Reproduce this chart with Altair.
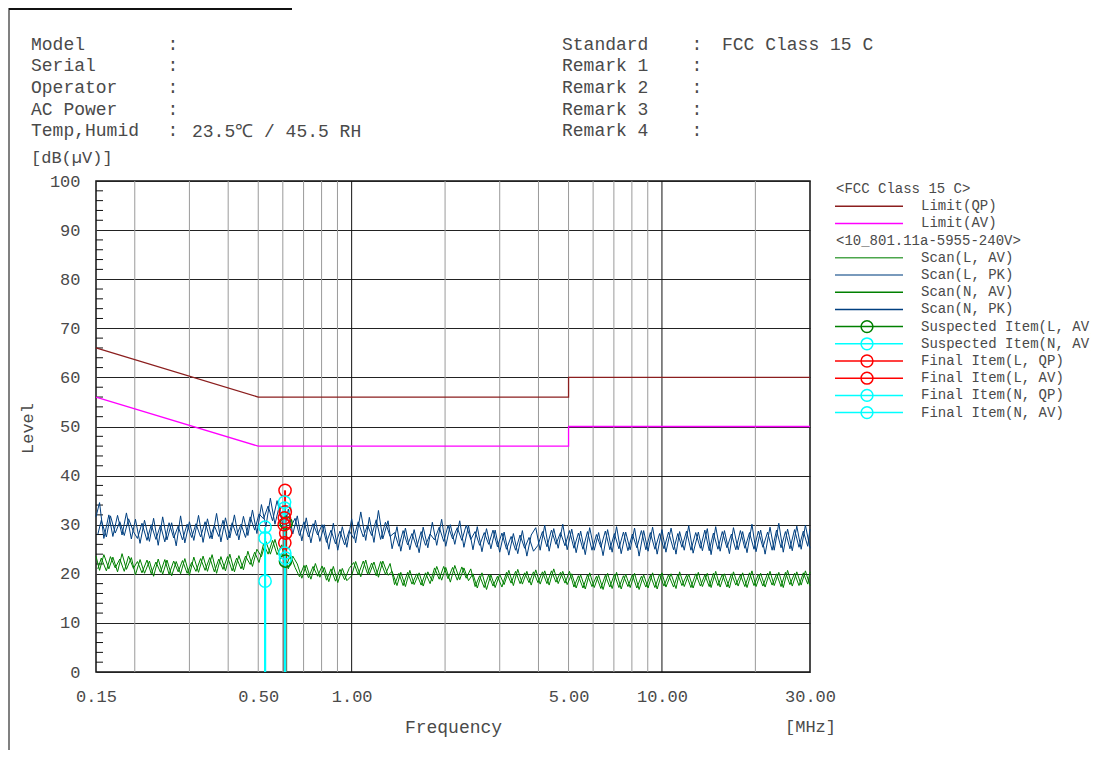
import altair as alt
import pandas as pd

# ---------------- data ----------------
# sweep frequencies of the N-line scans (MHz)
FREQ_N = [
    0.150, 0.154, 0.159, 0.165, 0.170, 0.176, 0.182, 0.188, 0.195, 0.201,
    0.208, 0.215, 0.223, 0.230, 0.238, 0.246, 0.254, 0.263, 0.272, 0.281,
    0.290, 0.300, 0.310, 0.321, 0.332, 0.343, 0.355, 0.367, 0.379, 0.392,
    0.405, 0.419, 0.433, 0.448, 0.463, 0.479, 0.495, 0.512, 0.529, 0.547,
    0.566, 0.585, 0.605, 0.625, 0.646, 0.668, 0.691, 0.714, 0.739, 0.764,
    0.790, 0.816, 0.844, 0.873, 0.902, 0.933, 0.965,
    1.00, 1.03, 1.07, 1.11, 1.14, 1.18, 1.22, 1.26, 1.31, 1.35,
    1.40, 1.44, 1.49, 1.54, 1.59, 1.65, 1.70, 1.76, 1.82, 1.88,
    1.95, 2.01, 2.08, 2.15, 2.23, 2.30, 2.38, 2.46, 2.54, 2.63,
    2.72, 2.81, 2.90, 3.00, 3.10, 3.21, 3.32, 3.43, 3.55, 3.67,
    3.79, 3.92, 4.05, 4.19, 4.33, 4.48, 4.63, 4.79, 4.95, 5.12,
    5.29, 5.47, 5.66, 5.85, 6.05, 6.25, 6.46, 6.68, 6.91, 7.14,
    7.39, 7.64, 7.90, 8.16, 8.44, 8.73, 9.02, 9.33, 9.65,
    10.0, 10.3, 10.7, 11.1, 11.4, 11.8, 12.2, 12.6, 13.1, 13.5,
    14.0, 14.4, 14.9, 15.4, 15.9, 16.5, 17.0, 17.6, 18.2, 18.8,
    19.5, 20.1, 20.8, 21.5, 22.3, 23.0, 23.8, 24.6, 25.4, 26.3,
    27.2, 28.1, 29.0, 30.0,
]

# sweep frequencies of the L-line scans (MHz)
FREQ_L = [
    0.152, 0.156, 0.162, 0.167, 0.173, 0.179, 0.185, 0.191, 0.198, 0.204,
    0.211, 0.219, 0.226, 0.234, 0.242, 0.250, 0.258, 0.267, 0.276, 0.285,
    0.295, 0.305, 0.315, 0.326, 0.337, 0.349, 0.361, 0.373, 0.385, 0.398,
    0.412, 0.426, 0.440, 0.455, 0.471, 0.487, 0.503, 0.520, 0.538, 0.556,
    0.575, 0.595, 0.615, 0.635, 0.657, 0.679, 0.702, 0.726, 0.751, 0.777,
    0.803, 0.830, 0.858, 0.887, 0.917, 0.949, 0.982,
    1.015, 1.05, 1.09, 1.125, 1.16, 1.20, 1.24, 1.285, 1.33, 1.375,
    1.42, 1.465, 1.515, 1.565, 1.62, 1.675, 1.73, 1.79, 1.85, 1.915,
    1.98, 2.045, 2.115, 2.19, 2.265, 2.34, 2.42, 2.50, 2.585, 2.675,
    2.765, 2.855, 2.95, 3.05, 3.155, 3.265, 3.375, 3.49, 3.61, 3.73,
    3.855, 3.985, 4.12, 4.26, 4.405, 4.555, 4.71, 4.87, 5.035, 5.205,
    5.38, 5.565, 5.755, 5.95, 6.15, 6.355, 6.57, 6.795, 7.025, 7.265,
    7.515, 7.77, 8.03, 8.30, 8.585, 8.875, 9.175, 9.49, 9.825,
    10.15, 10.5, 10.9, 11.25, 11.6, 12.0, 12.4, 12.85, 13.3, 13.75,
    14.2, 14.65, 15.15, 15.65, 16.2, 16.75, 17.3, 17.9, 18.5, 19.15,
    19.8, 20.45, 21.15, 21.9, 22.65, 23.4, 24.2, 25.0, 25.85, 26.75,
    27.65, 28.55, 29.5, 30.0,
]

SCAN_N_PK = [
    31.6, 34.5, 27.2, 32.0, 27.6, 31.9, 27.9, 32.4, 27.1,
    31.1, 26.2, 30.9, 26.6, 31.3, 25.8, 31.6, 26.9, 30.4, 25.7, 31.8, 26.3, 30.6,
    26.8, 31.9, 26.4, 31.2, 27.1, 32.3, 26.5, 31.4, 27.3, 32.0, 26.9, 31.7,
    27.8, 33.0, 28.2,
    34.1, 29.6, 35.4, 30.1, 33.9,
    28.4, 33.2, 28.1,
    31.8, 26.7, 31.4, 26.3, 30.9, 26.6,
    30.0, 25.0, 30.3, 24.8, 29.6, 25.4,
    31.2, 26.3, 32.6, 26.8, 31.5, 26.4, 32.9, 27.1, 30.8,
    25.1, 29.6, 24.6, 29.3, 24.9, 29.0, 24.3, 29.5, 25.3,
    30.5, 25.8, 31.1, 25.6, 30.0, 26.0, 30.8, 25.4, 29.8,
    24.9, 29.6, 24.5, 29.2, 25.1, 28.9, 24.4,
    28.5, 23.8, 28.2, 24.1, 28.8, 23.6, 27.9,
    29.4, 24.8, 29.9, 24.6, 29.2, 25.2, 30.1, 24.9,
    29.1, 24.3, 28.7, 23.9, 29.4, 24.8, 28.4, 23.7, 29.0, 24.4,
    29.6, 24.1, 28.5, 24.9, 29.3, 23.6, 28.8, 24.6, 29.5, 24.0,
    29.0, 24.4, 29.3, 24.0, 28.6, 24.8, 29.8, 24.2, 28.5, 24.7,
    29.2, 23.9, 29.6, 24.6, 28.8, 24.1, 29.4, 24.9, 28.6, 24.3,
    30.1, 24.5, 28.9, 24.0, 29.5, 24.8, 30.3, 24.4, 29.1, 24.7,
    29.7, 25.0, 29.9, 25.2,
]

SCAN_L_PK = [
    28.0, 30.9, 27.5, 31.8, 28.3, 30.6, 27.8, 31.2, 28.6,
    27.2, 30.3, 26.8, 30.0, 27.0, 29.9, 26.5, 30.4, 27.3, 29.7, 26.9, 30.1, 27.4,
    30.2, 27.5, 30.6, 27.2, 29.8, 27.6, 30.9, 26.9, 30.4, 27.8, 30.1, 27.4,
    31.6, 28.9, 32.2,
    31.2, 33.8, 30.8, 34.9, 31.0,
    32.0, 29.4, 31.3,
    27.8, 30.6, 27.5, 30.2, 27.9, 30.0,
    26.4, 28.9, 26.1, 28.7, 25.9, 28.8,
    27.2, 30.6, 27.5, 29.9, 27.8, 31.0, 27.0, 30.5, 27.6,
    28.4, 25.6, 28.8, 25.9, 28.2, 25.4, 28.6, 25.8, 28.1,
    26.9, 29.5, 26.6, 29.8, 27.1, 29.4, 26.8, 29.9, 27.0,
    28.6, 25.8, 28.4, 26.0, 28.9, 25.5, 28.3,
    25.0, 27.6, 24.8, 27.9, 25.2, 27.4, 24.6,
    25.8, 28.6, 25.5, 28.9, 26.0, 28.4, 25.7, 28.8,
    25.2, 28.3, 25.0, 28.6, 24.8, 28.0, 25.4, 28.7, 24.9, 28.2,
    25.1, 28.5, 24.7, 28.1, 25.3, 28.8, 24.9, 28.4, 25.0, 28.2,
    25.1, 28.5, 24.9, 28.2, 25.4, 28.7, 24.8, 28.4, 25.2, 28.9,
    24.7, 28.3, 25.0, 28.6, 25.3, 28.1, 24.9, 28.8, 25.2, 28.4,
    25.0, 28.7, 25.4, 28.5, 24.8, 28.9, 25.3, 28.6, 25.1, 29.0,
    25.4, 28.7, 25.6, 29.1,
]

SCAN_N_AV = [
    23.6, 20.7, 23.9, 21.0, 23.4, 20.4, 24.1, 20.9, 23.3,
    19.8, 22.9, 20.1, 22.6, 19.5, 23.0, 19.9, 22.8, 19.6, 22.5, 20.0, 23.1, 19.7,
    23.4, 20.3, 23.6, 20.5, 23.9, 20.1, 23.5, 20.6, 24.0, 20.4, 23.7, 20.8,
    24.6, 21.5, 25.0,
    23.5, 26.6, 24.0, 27.0, 23.8,
    23.9, 21.0, 23.6,
    22.0, 19.1, 21.8, 18.9, 22.1, 19.3,
    21.3, 18.4, 21.5, 18.2, 21.1, 18.6,
    19.6, 22.5, 19.4, 22.8, 19.9, 22.4, 19.3, 22.6, 19.7,
    20.5, 17.6, 20.3, 17.4, 20.7, 17.8, 20.2, 17.5, 20.4,
    18.5, 21.5, 18.7, 21.3, 18.3, 21.7, 18.8, 21.2, 18.6,
    20.0, 17.1, 20.2, 16.8, 19.8, 17.2, 19.9,
    17.8, 20.7, 17.6, 20.9, 17.9, 20.5, 17.7,
    20.8, 17.9, 20.6, 17.7, 21.0, 18.0, 20.5, 17.8,
    20.0, 17.1, 19.8, 16.9, 20.2, 17.2, 19.7, 16.8, 20.1, 17.0,
    20.3, 16.9, 19.9, 17.2, 20.1, 16.8, 19.8, 17.1, 20.2, 16.9,
    20.2, 17.3, 20.0, 17.0, 20.4, 17.4, 19.9, 17.1, 20.3, 17.4,
    20.1, 17.2, 20.5, 17.3, 20.0, 17.1, 20.4, 17.5, 20.2, 17.2,
    20.6, 17.4, 20.1, 17.3, 20.5, 17.6, 20.3, 17.2, 20.7, 17.5,
    20.4, 17.7, 20.6, 17.6,
]

SCAN_L_AV = [
    21.0, 23.2, 20.6, 23.5, 21.2, 23.0, 20.5, 23.6, 21.1,
    22.5, 20.2, 22.8, 20.0, 22.4, 20.3, 22.9, 19.9, 22.6, 20.4, 22.7, 20.1, 22.3,
    20.5, 23.1, 20.7, 23.3, 20.4, 23.0, 20.9, 23.5, 20.6, 23.2, 21.0, 23.6,
    21.9, 24.4, 22.3,
    26.1, 24.0, 26.8, 23.9, 25.9,
    21.6, 23.8, 21.3,
    19.4, 21.7, 19.2, 21.5, 19.5, 21.6,
    18.7, 21.0, 18.5, 20.9, 18.8, 21.1,
    22.3, 19.8, 22.6, 20.0, 22.2, 19.6, 22.5, 19.9, 22.1,
    17.8, 20.1, 17.6, 20.3, 17.9, 20.0, 17.7, 20.2, 18.0,
    21.2, 18.9, 21.5, 19.0, 21.3, 18.7, 21.4, 19.1, 21.0,
    17.4, 19.6, 17.2, 19.8, 17.5, 19.5, 17.3,
    20.3, 18.1, 20.5, 18.0, 20.2, 18.2, 20.4,
    18.2, 20.4, 18.0, 20.6, 18.3, 20.3, 18.1, 20.5,
    17.3, 19.6, 17.1, 19.8, 17.4, 19.5, 17.0, 19.7, 17.3, 19.9,
    17.2, 19.6, 17.4, 19.8, 17.1, 19.5, 17.3, 19.7, 17.2, 19.9,
    17.5, 19.8, 17.3, 19.9, 17.6, 19.7, 17.2, 20.0, 17.5, 19.8,
    17.4, 20.1, 17.6, 19.9, 17.3, 20.0, 17.7, 19.8, 17.4, 20.2,
    17.6, 19.9, 17.5, 20.1, 17.7, 20.0, 17.4, 20.3, 17.8, 20.1,
    17.6, 20.2, 17.9, 20.4,
]

LIMIT_FREQ = [0.15, 0.5, 5.0, 5.0, 30.0]
LIMIT_QP = [66, 56, 56, 60, 60]
LIMIT_AV = [56, 46, 46, 50, 50]

SUSP_L_AV_F = [0.615, 0.612]
SUSP_L_AV = [30.3, 22.6]
SUSP_N_AV_F = [0.526, 0.608]
SUSP_N_AV = [27.3, 33.4]
FINAL_L_QP_F = [0.610, 0.607, 0.613]
FINAL_L_QP = [37.0, 31.4, 28.3]
FINAL_L_AV_F = [0.611, 0.606, 0.609]
FINAL_L_AV = [32.6, 30.0, 26.3]
FINAL_N_QP_F = [0.526, 0.608]
FINAL_N_QP = [29.5, 34.6]
FINAL_N_AV_F = [0.526, 0.609, 0.612]
FINAL_N_AV = [18.5, 24.2, 23.2]

GRID_MINOR = [0.2, 0.3, 0.4, 0.5, 0.6, 0.7, 0.8, 0.9, 2, 3, 4, 5, 6, 7, 8, 9, 20]
GRID_MAJOR = [1, 10]
X_LABELS = [0.15, 0.5, 1, 5, 10, 30]
Y_LABELS = [0, 10, 20, 30, 40, 50, 60, 70, 80, 90, 100]
Y_MINOR = [2, 4, 6, 8, 12, 14, 16, 18, 22, 24, 26, 28, 32, 34, 36, 38, 42, 44, 46, 48,
           52, 54, 56, 58, 62, 64, 66, 68, 72, 74, 76, 78, 82, 84, 86, 88, 92, 94, 96, 98]

HDR_LEFT_LABELS = ["Model", "Serial", "Operator", "AC Power", "Temp,Humid"]
HDR_RIGHT_LABELS = ["Standard", "Remark 1", "Remark 2", "Remark 3", "Remark 4"]
HDR_TEMP = "23.5℃ / 45.5 RH"
HDR_STANDARD = "FCC Class 15 C"

LEG_LABELS = ["<FCC Class 15 C>", "Limit(QP)", "Limit(AV)", "<10_801.11a-5955-240V>",
              "Scan(L, AV)", "Scan(L, PK)", "Scan(N, AV)", "Scan(N, PK)",
              "Suspected Item(L, AV)", "Suspected Item(N, AV)",
              "Final Item(L, QP)", "Final Item(L, AV)", "Final Item(N, QP)", "Final Item(N, AV)"]
LEG_KIND = ["group", "line", "line", "group", "line", "line", "line", "line",
            "marker", "marker", "marker", "marker", "marker", "marker"]

# ---------------- styles ----------------
FONT = "Liberation Mono"
TXT = "#4a4a4a"
C_QP = "#8B1E1E"
C_AV = "#FF00FF"
C_GREEN = "#008000"
C_NAVY = "#003F80"
C_RED = "#FF0000"
C_CYAN = "#00FFFF"
LEG_COLORS = {
    "Limit(QP)": C_QP, "Limit(AV)": C_AV,
    "Scan(L, AV)": "#4DA64D", "Scan(L, PK)": "#4D79A6",
    "Scan(N, AV)": C_GREEN, "Scan(N, PK)": C_NAVY,
    "Suspected Item(L, AV)": C_GREEN, "Suspected Item(N, AV)": C_CYAN,
    "Final Item(L, QP)": C_RED, "Final Item(L, AV)": C_RED,
    "Final Item(N, QP)": C_CYAN, "Final Item(N, AV)": C_CYAN,
}

W, H = 714, 491

XS = alt.Scale(type="log", domain=[0.15, 30], nice=False)
YS = alt.Scale(domain=[0, 100], nice=False, zero=False)

XAX = alt.Axis(values=X_LABELS, format=".2f", title="Frequency", grid=False, ticks=False, tickSize=0,
               domain=False, labelPadding=16, labelFont=FONT, labelFontSize=17, labelColor=TXT,
               labelOverlap=False, labelFlush=False, titleFont=FONT, titleFontSize=18,
               titleFontWeight="normal", titleColor=TXT, titleX=W / 2, titleY=55,
               titleBaseline="middle", titleAlign="center")
YAX = alt.Axis(values=Y_LABELS, title="Level", grid=True, gridColor="#222222", gridWidth=1,
               gridOpacity=1, ticks=False, tickSize=0, domain=False, labelPadding=16,
               labelFont=FONT, labelFontSize=17, labelColor=TXT, labelOverlap=False,
               labelFlush=False, titleFont=FONT, titleFontSize=17, titleFontWeight="normal",
               titleColor=TXT, titleX=-69, titleY=247, titleAngle=270, titleBaseline="middle",
               titleAlign="center")


def X():
    return alt.X("f:Q", scale=XS, axis=XAX)


def Y():
    return alt.Y("v:Q", scale=YS, axis=YAX)


def series_df(freqs, levels):
    rows = [{"f": f, "v": v, "i": i} for i, (f, v) in enumerate(zip(freqs, levels))]
    return pd.DataFrame(rows)


# vertical grid
vminor = alt.Chart(pd.DataFrame({"f": GRID_MINOR})).mark_rule(color="#9a9a9a", strokeWidth=1).encode(x=X())
vmajor = alt.Chart(pd.DataFrame({"f": GRID_MAJOR})).mark_rule(color="#111111", strokeWidth=1).encode(x=X())
yminor = alt.Chart(pd.DataFrame({"v": Y_MINOR})).mark_rule(color="#111111", strokeWidth=1).encode(
    y=Y(), x=alt.value(0), x2=alt.value(7))


def line(freqs, levels, color, width=1.0):
    return alt.Chart(series_df(freqs, levels)).mark_line(color=color, strokeWidth=width, interpolate="linear").encode(
        x=X(), y=Y(), order="i:Q")


qp = line(LIMIT_FREQ, LIMIT_QP, C_QP, 1.3)
av = line(LIMIT_FREQ, LIMIT_AV, C_AV, 1.3)
s_lav = line(FREQ_L, SCAN_L_AV, C_GREEN)
s_lpk = line(FREQ_L, SCAN_L_PK, C_NAVY)
s_nav = line(FREQ_N, SCAN_N_AV, C_GREEN)
s_npk = line(FREQ_N, SCAN_N_PK, C_NAVY)


def stems(freqs, levels, color, width=2):
    return alt.Chart(series_df(freqs, levels)).mark_rule(color=color, strokeWidth=width).encode(
        x=X(), y=Y(), y2=alt.datum(0))


def circles(freqs, levels, color):
    return alt.Chart(series_df(freqs, levels)).mark_point(
        shape="circle", filled=False, size=150, strokeWidth=1.5, color=color, opacity=1).encode(x=X(), y=Y())


marker_sets = [
    (SUSP_L_AV_F, SUSP_L_AV, C_GREEN),
    (SUSP_N_AV_F, SUSP_N_AV, C_CYAN),
    (FINAL_L_QP_F, FINAL_L_QP, C_RED),
    (FINAL_L_AV_F, FINAL_L_AV, C_RED),
    (FINAL_N_QP_F, FINAL_N_QP, C_CYAN),
    (FINAL_N_AV_F, FINAL_N_AV, C_CYAN),
]
stem_layers = [stems(f, v, c) for f, v, c in marker_sets]
circle_layers = [circles(f, v, c) for f, v, c in marker_sets]

main = alt.layer(vminor, vmajor, yminor, qp, av, s_lav, s_lpk, s_nav, s_npk,
                 *stem_layers, *circle_layers)

# header text
ONE = pd.DataFrame({"a": [0]})


def htext(text, x, y, size=18, align="left", line_h=21.7):
    return alt.Chart(ONE).mark_text(align=align, baseline="middle", font=FONT, fontSize=size,
                                    lineHeight=line_h, color=TXT).encode(
        x=alt.value(x), y=alt.value(y), text=alt.value(text))


hdr = alt.layer(
    htext(HDR_LEFT_LABELS, -65, -136.5),
    htext([":"] * 5, 77, -136.5, align="center"),
    htext(HDR_TEMP, 96, -49.5),
    htext(HDR_RIGHT_LABELS, 466, -136.5),
    htext([":"] * 5, 601, -136.5, align="center"),
    htext(HDR_STANDARD, 626, -136.5),
    htext("[dB(µV)]", -65, -23, size=17),
    htext("[MHz]", 689, 546, size=17),
)

# frame lines of the page
frame = alt.layer(
    alt.Chart(ONE).mark_rule(color="#808080", strokeWidth=2).encode(
        x=alt.value(-87), y=alt.value(-173), y2=alt.value(H + 80)),
    alt.Chart(ONE).mark_rule(color="#111111", strokeWidth=2).encode(
        x=alt.value(-87), x2=alt.value(196), y=alt.value(-172)),
)

# legend
leg_df = pd.DataFrame({"row": list(range(len(LEG_LABELS))), "label": LEG_LABELS, "kind": LEG_KIND})
LY = alt.Scale(domain=[0, 13], range=[8, 231.6])
col_names = list(LEG_COLORS.keys())
col_vals = [LEG_COLORS[k] for k in col_names]
LC = alt.Color("label:N", scale=alt.Scale(domain=col_names, range=col_vals), legend=None)

leg_lines = alt.Chart(leg_df).transform_filter("datum.kind != 'group'").mark_rule(strokeWidth=1.5).encode(
    x=alt.value(739), x2=alt.value(807), y=alt.Y("row:Q", scale=LY, axis=None), color=LC)
leg_pts = alt.Chart(leg_df).transform_filter("datum.kind == 'marker'").mark_point(
    shape="circle", filled=False, size=140, strokeWidth=1.5, opacity=1).encode(
    x=alt.value(771), y=alt.Y("row:Q", scale=LY, axis=None), color=LC)
leg_txt = alt.Chart(leg_df).transform_filter("datum.kind != 'group'").mark_text(
    align="left", baseline="middle", font=FONT, fontSize=14, color=TXT).encode(
    x=alt.value(825), y=alt.Y("row:Q", scale=LY, axis=None), text="label:N")
leg_grp = alt.Chart(leg_df).transform_filter("datum.kind == 'group'").mark_text(
    align="left", baseline="middle", font=FONT, fontSize=14, color=TXT).encode(
    x=alt.value(740), y=alt.Y("row:Q", scale=LY, axis=None), text="label:N")
legend = alt.layer(leg_lines, leg_pts, leg_txt, leg_grp)

chart = alt.layer(main, hdr, frame, legend).resolve_scale(
    x="independent", y="independent", color="independent"
).properties(
    width=W, height=H,
    autosize=alt.AutoSizeParams(type="none"),
    padding={"left": 88, "top": 173, "right": 281, "bottom": 78},
    background="white",
).configure_view(stroke="#111111", strokeWidth=1.5)

chart.save("out.html", embed_options={"renderer": "svg", "actions": False})
